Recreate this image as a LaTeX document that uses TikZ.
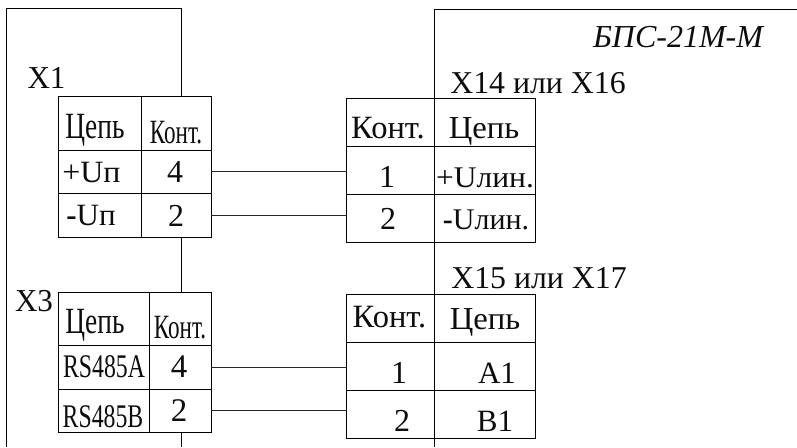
\documentclass[tikz,border=0pt]{standalone}
\usepackage{fontspec}
\setmainfont{Liberation Serif}
\newcommand{\CellBox}[5]{%
  \pgfmathsetmacro{\cw}{#4-#2}\pgfmathsetmacro{\ch}{#5-#3}%
  \pgfmathsetmacro{\cx}{(#2+#4)/2}\pgfmathsetmacro{\cy}{(#3+#5)/2}%
  \node[cellbox,minimum width=\cw pt,minimum height=\ch pt] (#1) at (\cx,\cy) {};}
\newcommand{\Txt}[7]{%
  \node[txt] (#1) at (#2,#3) {\fontsize{#4}{#4}\selectfont\scalebox{#5}[#6]{#7}};}
\tikzset{
  cellbox/.style={draw=black,line width=0.95pt,inner sep=0pt,outer sep=0pt},
  txt/.style={anchor=base,inner sep=0pt,outer sep=0pt,text=black!95},
  wire/.style={draw=black!85,line width=0.95pt},
  frame/.style={draw=black,line width=0.95pt}
}
\begin{document}
\begin{tikzpicture}[x=1pt,y=-1pt]
\useasboundingbox (0,0) rectangle (797,447);
% enclosures
\draw[frame] (181,96) -- (181,8) -- (6.5,8) -- (6.5,447);
\draw[frame] (181,237) -- (181,292);
\draw[frame] (181,432) -- (181,447);
\draw[frame] (797,9) -- (434.3,9) -- (434.3,447);
% X1
\CellBox{aa}{58}{96}{141.5}{150}
\CellBox{ab}{141.5}{96}{211}{150}
\CellBox{ac}{58}{150}{141.5}{193}
\CellBox{ad}{141.5}{150}{211}{193}
\CellBox{ae}{58}{193}{141.5}{237}
\CellBox{af}{141.5}{193}{211}{237}
% X3
\CellBox{ba}{58}{292}{149.5}{345.7}
\CellBox{bb}{149.5}{292}{211}{345.7}
\CellBox{bc}{58}{345.7}{149.5}{389}
\CellBox{bd}{149.5}{345.7}{211}{389}
\CellBox{be}{58}{389}{149.5}{432}
\CellBox{bf}{149.5}{389}{211}{432}
% X14
\CellBox{ca}{346.5}{98}{434.3}{146}
\CellBox{cb}{434.3}{98}{535}{146}
\CellBox{cc}{346.5}{146}{434.3}{194}
\CellBox{cd}{434.3}{146}{535}{194}
\CellBox{ce}{346.5}{194}{434.3}{242}
\CellBox{cf}{434.3}{194}{535}{242}
% X15
\CellBox{da}{346.5}{294}{434.3}{342}
\CellBox{db}{434.3}{294}{535}{342}
\CellBox{dc}{346.5}{342}{434.3}{390.7}
\CellBox{dd}{434.3}{342}{535}{390.7}
\CellBox{de}{346.5}{390.7}{434.3}{438.7}
\CellBox{df}{434.3}{390.7}{535}{438.7}
% connectors
\draw[wire] (ad.east) -- (ad.east -| cc.west);
\draw[wire] (af.east) -- (af.east -| ce.west);
\draw[wire] (bd.east) -- (bd.east -| dc.west);
\draw[wire] (bf.east) -- (bf.east -| de.west);
% labels, left
\Txt{t1}{46.5}{88}{31}{1}{1.03}{X1}
\Txt{t2}{95}{138}{37}{.74}{1}{Цепь}
\Txt{t3}{176}{143}{34}{.68}{1}{Конт.}
\Txt{t4}{91.5}{182}{31}{1.03}{1}{+Uп}
\Txt{t5}{175}{182}{32}{1}{1}{4}
\Txt{t6}{91}{225}{31}{1}{1}{\textbf{-}Uп}
\Txt{t7}{176}{226}{32}{1}{1}{2}
\Txt{t8}{34}{311}{31}{1}{1.03}{X3}
\Txt{t9}{95}{333}{37}{.74}{1}{Цепь}
\Txt{t10}{180}{338}{34}{.68}{1}{Конт.}
\Txt{t11}{104}{377}{33}{.72}{1}{RS485A}
\Txt{t12}{179}{377}{33}{1}{1}{4}
\Txt{t13}{103}{427}{33}{.72}{1}{RS485B}
\Txt{t14}{179}{421}{33}{1}{1}{2}
% labels, right
\Txt{t15}{678}{47}{32}{1}{1}{\itshape БПС-21М-М}
\Txt{t16}{538}{93}{31.8}{1}{1}{X14 или X16}
\Txt{t17}{388}{138}{32.5}{1}{1}{Конт.}
\Txt{t18}{484}{138}{32}{1.02}{1}{Цепь}
\Txt{t19}{387}{187}{32}{1}{1}{1}
\Txt{t20}{485}{187}{30}{1.05}{1}{+Uлин.}
\Txt{t21}{388}{229}{32}{1}{1}{2}
\Txt{t22}{486}{229}{30}{1}{1}{\textbf{-}Uлин.}
\Txt{t23}{539}{288}{31.8}{1}{1}{X15 или X17}
\Txt{t24}{389.5}{327}{32.5}{1}{1}{Конт.}
\Txt{t25}{485}{329}{32}{1.02}{1}{Цепь}
\Txt{t26}{399}{383}{32}{1}{1}{1}
\Txt{t27}{497}{383}{31}{1}{1}{A1}
\Txt{t28}{402}{431}{32}{1}{1}{2}
\Txt{t29}{495}{431}{31}{1}{1}{B1}
\end{tikzpicture}
\end{document}
